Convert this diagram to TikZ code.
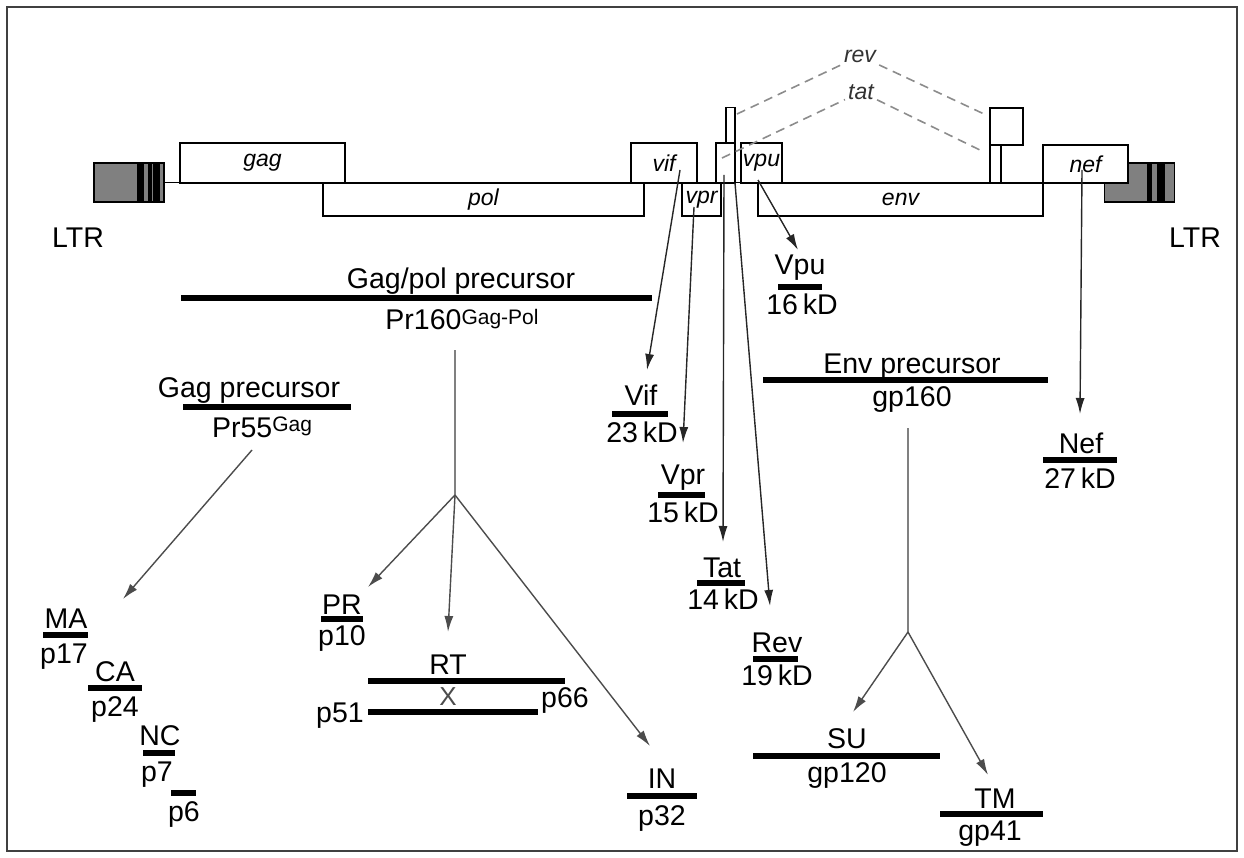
\documentclass[tikz,border=0pt]{standalone}
\usepackage{fontspec}
\setmainfont{Liberation Sans}
\usetikzlibrary{arrows.meta}
\begin{document}
\begin{tikzpicture}[x=1pt,y=-1pt,
  lbl/.style={font=\fontsize{28.5}{30}\selectfont, inner sep=0pt, anchor=base},
  gl/.style={font=\fontsize{23}{25}\selectfont\itshape},
  gbox/.style={draw, line width=1.3pt, fill=white, inner sep=0pt, outer sep=0pt, gl},
  ltr/.style={draw, line width=1.3pt, fill=black!50, inner sep=0pt, outer sep=0pt, minimum width=70pt, minimum height=39pt},
  bar/.style={line width=6pt},
  arr/.style={line width=1.4pt, black!85, -{Latex[length=16pt,width=9pt]}},
  sarr/.style={line width=1.4pt, black!70, -{Latex[length=16pt,width=9pt]}},
  stem/.style={line width=1.5pt, black!50},
  dashln/.style={line width=1.6pt, black!45, dash pattern=on 9pt off 6pt},
  dlab/.style={gl, inner sep=3pt, black!80},
]
\useasboundingbox (0,0) rectangle (1244,858);
\draw[line width=1.2pt, black!75] (7,7) rectangle (1237,851);

% ---------- genome ----------
\node[ltr] (ltrL) at (129,182.5) {};
\node[ltr] (ltrR) at (1139.5,182.5) {};
\draw[line width=1.3pt] (ltrL.east) -- (ltrR.west);
\fill (137,163) rectangle (144,202);
\fill (148,163) rectangle (152,202);
\fill (153,163) rectangle (160,202);
\fill (1147,163) rectangle (1152,202);
\fill (1157,163) rectangle (1165,202);
\draw[line width=1.3pt] (ltrR.north west) rectangle (ltrR.south east);

\node[gbox, minimum width=165pt, minimum height=40pt] (gag) at (262.5,163) {gag};
\node[gbox, minimum width=321pt, minimum height=33pt] (pol) at (483.5,199.5) {pol};
\node[gbox, minimum width=66pt, minimum height=40pt] (vif) at (664,163) {vif};
\node[gbox, minimum width=39pt, minimum height=33pt] (vpr) at (701.5,199.5) {vpr};
\node[gbox, minimum width=285pt, minimum height=33pt] (env) at (900.5,199.5) {env};
\node[gbox, minimum width=41pt, minimum height=40pt] (vpu) at (761.5,163) {vpu};
\node[gbox, minimum width=9pt, minimum height=36pt] (tat1n) at (730.5,125.5) {};
\node[gbox, minimum width=19pt, minimum height=40pt] (tat1) at (725.5,163) {};
\node[gbox, minimum width=33pt, minimum height=37pt] (tat2) at (1006.5,126.5) {};
\node[gbox, minimum width=11pt, minimum height=38pt] (tat2n) at (995.5,164) {};
\node[gbox, minimum width=85pt, minimum height=38pt] (nef) at (1085.5,164) {nef};

\node[lbl] (ltrLt) at (78,248) {LTR};
\node[lbl] (ltrRt) at (1195,248) {LTR};

% splicing
\node[dlab] (revlab) at (860,56) {rev};
\node[dlab] (tatlab) at (861,92) {tat};
\coordinate (revA) at (737,114);
\coordinate (revB) at (984,114);
\coordinate (tatA) at (722,158);
\coordinate (tatB) at (984,152);
\draw[dashln] (revA) -- (revlab);
\draw[dashln] (revlab) -- (revB);
\draw[dashln] (tatA) -- (tatlab);
\draw[dashln] (tatlab) -- (tatB);

% ---------- Gag/pol ----------
\node[lbl] (gpT) at (461,289) {Gag/pol precursor};
\draw[bar] (181,298) -- (652,298);
\node[lbl] (gpB) at (462,330) {Pr160\raisebox{5.5pt}{\fontsize{21}{22}\selectfont Gag-Pol}};

\node[lbl] (gT) at (249,397) {Gag precursor};
\draw[bar] (183,407) -- (351,407);
\node[lbl] (gB) at (262,437) {Pr55\raisebox{5.5pt}{\fontsize{21}{22}\selectfont Gag}};

\coordinate (gS) at (252,450);
\coordinate (gE) at (123,599);
\draw[sarr] (gS) -- (gE);

\node[lbl] (ma) at (66,628) {MA};
\draw[bar] (43,635) -- (88,635);
\node[lbl] (p17) at (64,663) {p17};
\node[lbl] (ca) at (115,681) {CA};
\draw[bar] (88,688) -- (142,688);
\node[lbl] (p24) at (115,716) {p24};
\node[lbl] (nc) at (160,745) {NC};
\draw[bar] (143,753) -- (175,753);
\node[lbl] (p7) at (157,781) {p7};
\draw[bar] (171,793) -- (196,793);
\node[lbl] (p6) at (184,821) {p6};

\coordinate (gpS) at (455,350);
\coordinate (gpJ) at (455,495);
\draw[stem] (gpS) -- (gpJ);
\coordinate (prE) at (368,587);
\coordinate (rtE) at (448,632);
\coordinate (inE) at (650,746);
\draw[sarr] (gpJ) -- (prE);
\draw[sarr] (gpJ) -- (rtE);
\draw[sarr] (gpJ) -- (inE);

\node[lbl] (pr) at (342,614) {PR};
\draw[bar] (321,619) -- (363,619);
\node[lbl] (p10) at (342,645) {p10};

\node[lbl] (rt) at (448,674) {RT};
\draw[bar] (368,681) -- (565,681);
\draw[bar] (368,712) -- (538,712);
\node[font=\fontsize{26}{28}\selectfont, black!70, inner sep=0pt] (rtx) at (448,697) {X};
\node[lbl] (p51) at (340,722) {p51};
\node[lbl] (p66) at (565,707) {p66};

\node[lbl] (in) at (662,788) {IN};
\draw[bar] (627,796) -- (697,796);
\node[lbl] (p32) at (662,825) {p32};

% ---------- accessory ----------
\coordinate (vifS) at (680,170);
\coordinate (vifE) at (647,370);
\draw[arr] (vifS) -- (vifE);
\node[lbl] (vifp) at (641,405) {Vif};
\draw[bar] (612,414) -- (668,414);
\node[lbl] (vifk) at (642,442) {23\,kD};

\coordinate (vprS) at (694,207);
\coordinate (vprE) at (683,443);
\draw[arr] (vprS) -- (vprE);
\node[lbl] (vprp) at (683,484) {Vpr};
\draw[bar] (658,495) -- (705,495);
\node[lbl] (vprk) at (683,522) {15\,kD};

\coordinate (tatS) at (724,175);
\coordinate (tatE) at (723,542);
\draw[arr] (tatS) -- (tatE);
\node[lbl] (tatp) at (722,577) {Tat};
\draw[bar] (697,583) -- (745,583);
\node[lbl] (tatk) at (723,609) {14\,kD};

\coordinate (revS) at (735,183);
\coordinate (revE) at (770,606);
\draw[arr] (revS) -- (revE);
\node[lbl] (revp) at (777,652) {Rev};
\draw[bar] (753,659) -- (798,659);
\node[lbl] (revk) at (777,685) {19\,kD};

\coordinate (vpuS) at (758,180);
\coordinate (vpuE) at (798,250);
\draw[arr] (vpuS) -- (vpuE);
\node[lbl] (vpup) at (800,275) {Vpu};
\draw[bar] (778,287) -- (822,287);
\node[lbl] (vpuk) at (802,315) {16\,kD};

\coordinate (nefS) at (1082,170);
\coordinate (nefE) at (1080,414);
\draw[arr] (nefS) -- (nefE);
\node[lbl] (nefp) at (1081,453) {Nef};
\draw[bar] (1043,460) -- (1117,460);
\node[lbl] (nefk) at (1080,488) {27\,kD};

% ---------- Env ----------
\node[lbl] (envT) at (912,373) {Env precursor};
\draw[bar] (763,380) -- (1048,380);
\node[lbl] (envB) at (912,406) {gp160};

\coordinate (envS) at (908,428);
\coordinate (envJ) at (908,632);
\draw[stem] (envS) -- (envJ);
\coordinate (suE) at (853,712);
\coordinate (tmE) at (988,775);
\draw[sarr] (envJ) -- (suE);
\draw[sarr] (envJ) -- (tmE);

\node[lbl] (su) at (847,748) {SU};
\draw[bar] (753,756) -- (940,756);
\node[lbl] (gp120) at (847,782) {gp120};
\node[lbl] (tm) at (995,808) {TM};
\draw[bar] (940,814) -- (1043,814);
\node[lbl] (gp41) at (990,840) {gp41};
\end{tikzpicture}
\end{document}
